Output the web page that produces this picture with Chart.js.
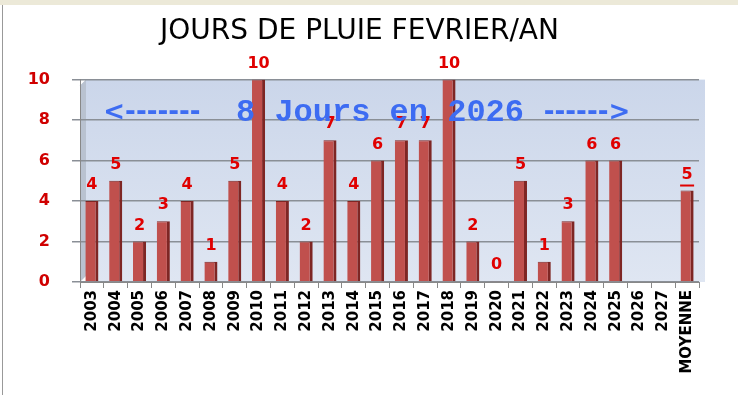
<!DOCTYPE html>
<html>
<head>
<meta charset="utf-8">
<script src="https://cdn.jsdelivr.net/npm/chart.js@4"></script>
<style>
  body { margin: 0; background: #fff; }
  #wrap { width: 738px; height: 395px; }
</style>
</head>
<body>
<div id="wrap"><canvas id="graficoPluie"></canvas></div>
<script>
// jours de pluie en fevrier, par annee
const annees = ["2003","2004","2005","2006","2007","2008","2009","2010","2011","2012","2013","2014","2015",
  "2016","2017","2018","2019","2020","2021","2022","2023","2024","2025","2026","2027","MOYENNE"];
const jours = [4,5,2,3,4,1,5,10,4,2,7,4,6,7,7,10,2,0,5,1,3,6,6,null,null,4.52];
const yTicks = [0,2,4,6,8,10];
const bandeau = ["<-------", "8 Jours en 2026", "------>"];

// fond, mur du fond, bandeau bleu et valeurs
const decor = {
  id: "decor",
  beforeDraw(chart) {
    const { ctx, chartArea: a } = chart;
    ctx.save();
    ctx.fillStyle = "#ece9d8";
    ctx.fillRect(0, 0, chart.width, 5);
    ctx.fillStyle = "#999";
    ctx.fillRect(2, 5, 1, chart.height);
    const g = ctx.createLinearGradient(0, a.top, 0, a.bottom);
    g.addColorStop(0, "#cbd6ea");
    g.addColorStop(1, "#dfe6f2");
    ctx.fillStyle = g;
    ctx.fillRect(a.left + 6, a.top, a.right - a.left, a.bottom - a.top);
    ctx.fillStyle = "#b9c2d0";
    ctx.beginPath();
    ctx.moveTo(a.left, a.top + 6);
    ctx.lineTo(a.left + 6, a.top);
    ctx.lineTo(a.left + 6, a.bottom - 6);
    ctx.lineTo(a.left, a.bottom);
    ctx.closePath();
    ctx.fill();
    ctx.restore();
  },
  afterDatasetsDraw(chart) {
    const { ctx, chartArea: a } = chart;
    const meta = chart.getDatasetMeta(0);
    ctx.save();
    ctx.fillStyle = "#e00000";
    ctx.font = "bold 16px 'DejaVu Sans'";
    ctx.textAlign = "center";
    ctx.textBaseline = "bottom";
    meta.data.forEach((bar, i) => {
      const v = jours[i];
      if (v === null) return;
      const txt = String(Math.round(v));
      ctx.fillText(txt, bar.x, bar.y - 8);
      if (annees[i] === "MOYENNE") {
        ctx.fillRect(bar.x - 7, bar.y - 6, 14, 2);
      }
    });
    const y = chart.scales.y.getPixelForValue(8.35);
    ctx.fillStyle = "#3d6cf2";
    ctx.textBaseline = "middle";
    ctx.font = "bold 26px 'DejaVu Sans'";
    ctx.fillText(bandeau[0], a.left + 72, y);
    ctx.fillText(bandeau[2], a.left + 507, y);
    ctx.font = "bold 32px 'Liberation Mono'";
    ctx.fillText(bandeau[1], a.left + 300, y);
    ctx.restore();
  }
};

new Chart(document.getElementById("graficoPluie"), {
  type: "bar",
  data: {
    labels: annees,
    datasets: [{
      label: "Jours de pluie",
      data: jours,
      backgroundColor: "#c0504d",
      borderColor: "#7e2624",
      borderWidth: { right: 3, top: 1, left: 0, bottom: 0 },
      borderSkipped: false,
      barPercentage: 0.55,
      categoryPercentage: 1,
      minBarLength: 1
    }]
  },
  options: {
    responsive: true,
    maintainAspectRatio: false,
    animation: false,
    layout: { padding: { left: 20, right: 39, top: 0, bottom: 0 } },
    plugins: {
      legend: { display: false },
      tooltip: { enabled: false },
      title: {
        display: true,
        text: "JOURS DE PLUIE FEVRIER/AN",
        color: "#000",
        font: { size: 28, family: "'DejaVu Sans'", weight: "normal" },
        padding: { top: 15, bottom: 31 }
      }
    },
    scales: {
      x: {
        afterFit: s => { s.height = 113; },
        grid: { display: true, drawOnChartArea: false, drawTicks: true, tickLength: 6, color: "#888", offset: true },
        border: { color: "#888" },
        ticks: {
          autoSkip: false,
          maxRotation: 90,
          minRotation: 90,
          color: "#000",
          font: { size: 15, weight: "bold", family: "'DejaVu Sans'" },
          padding: 2
        }
      },
      y: {
        min: 0,
        max: 10,
        afterFit: s => { s.width = 60; },
        afterBuildTicks: s => { s.ticks = yTicks.map(v => ({ value: v })); },
        grid: { color: "#8a8f96", lineWidth: 1.5, tickLength: 8 },
        border: { color: "#888" },
        ticks: {
          color: "#d00000",
          font: { size: 16, weight: "bold", family: "'DejaVu Sans'" },
          padding: 22
        }
      }
    }
  },
  plugins: [decor]
});
</script>
</body>
</html>
